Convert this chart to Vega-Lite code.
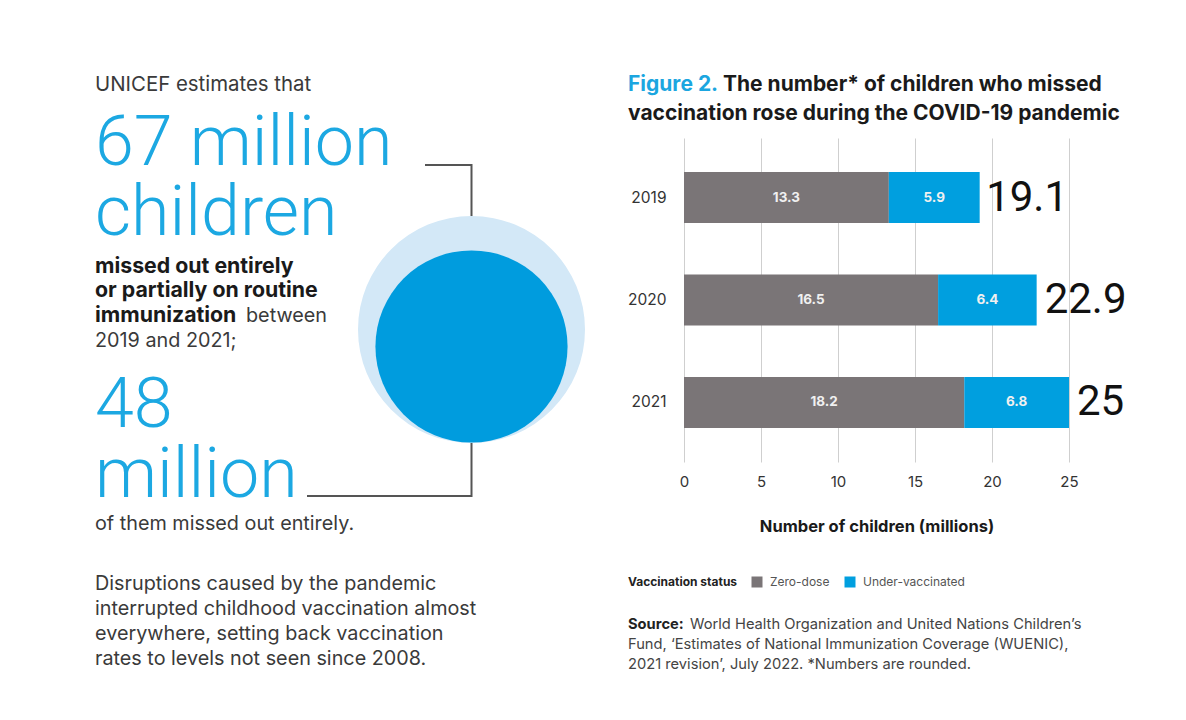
{
  "$schema": "https://vega.github.io/schema/vega-lite/v6.json",
  "background": "white",
  "padding": {"left": 95, "top": 71, "right": 0, "bottom": 0},
  "config": {
    "view": {"stroke": null},
    "font": "Inter",
    "axis": {"labelFont": "Inter", "titleFont": "Inter"},
    "legend": {"labelFont": "Inter", "titleFont": "Inter"}
  },
  "datasets": {
    "bars": [
      {"year": "2019", "status": "Zero-dose", "value": 13.3},
      {"year": "2019", "status": "Under-vaccinated", "value": 5.9},
      {"year": "2020", "status": "Zero-dose", "value": 16.5},
      {"year": "2020", "status": "Under-vaccinated", "value": 6.4},
      {"year": "2021", "status": "Zero-dose", "value": 18.2},
      {"year": "2021", "status": "Under-vaccinated", "value": 6.8}
    ],
    "totals": [
      {"year": "2019", "total": 19.1},
      {"year": "2020", "total": 22.9},
      {"year": "2021", "total": 25}
    ],
    "circles": [
      {"label": "67 million", "millions": 67, "cx": 376.5, "cy": 258.5},
      {"label": "48 million", "millions": 48, "cx": 376.5, "cy": 275.5}
    ],
    "connectors": [
      {"link": "67 million", "step": 1, "cx": 330, "cy": 94},
      {"link": "67 million", "step": 2, "cx": 376.5, "cy": 94},
      {"link": "67 million", "step": 3, "cx": 376.5, "cy": 145},
      {"link": "48 million", "step": 1, "cx": 212, "cy": 425},
      {"link": "48 million", "step": 2, "cx": 376.5, "cy": 425},
      {"link": "48 million", "step": 3, "cx": 376.5, "cy": 372}
    ],
    "leftText": [
      {"t": "UNICEF estimates that", "role": "lead", "col": 0, "ln": 20},
      {"t": "67 million\nchildren", "role": "headline", "col": 0, "ln": 94},
      {"t": "missed out entirely", "role": "emphasis", "col": 0, "ln": 202},
      {"t": "or partially on routine", "role": "emphasis", "col": 0, "ln": 226},
      {"t": "immunization", "role": "emphasis", "col": 0, "ln": 251},
      {"t": "between", "role": "body", "col": 151, "ln": 251},
      {"t": "2019 and 2021;", "role": "body", "col": 0, "ln": 276},
      {"t": "48\nmillion", "role": "headline", "col": 0, "ln": 356},
      {"t": "of them missed out entirely.", "role": "body", "col": 0, "ln": 459},
      {"t": "Disruptions caused by the pandemic", "role": "body", "col": 0, "ln": 519},
      {"t": "interrupted childhood vaccination almost", "role": "body", "col": 0, "ln": 544},
      {"t": "everywhere, setting back vaccination", "role": "body", "col": 0, "ln": 569},
      {"t": "rates to levels not seen since 2008.", "role": "body", "col": 0, "ln": 594}
    ],
    "header": [
      {"line": 1, "role": "label", "t": "Figure 2."},
      {"line": 1, "role": "first", "t": "The number* of children who missed"},
      {"line": 2, "role": "cont", "t": "vaccination rose during the COVID-19 pandemic"}
    ],
    "source": [
      {"line": 1, "role": "label", "t": "Source:"},
      {"line": 1, "role": "first", "t": "World Health Organization and United Nations Children’s"},
      {"line": 2, "role": "cont", "t": "Fund, ‘Estimates of National Immunization Coverage (WUENIC),"},
      {"line": 3, "role": "cont", "t": "2021 revision’, July 2022. *Numbers are rounded."}
    ]
  },
  "hconcat": [
    {
      "width": 490,
      "height": 600,
      "layer": [
        {
          "data": {"name": "circles"},
          "mark": {"type": "point", "shape": "circle", "filled": true, "opacity": 1, "strokeWidth": 0},
          "encoding": {
            "x": {"field": "cx", "type": "quantitative", "scale": {"domain": [0, 490], "nice": false, "zero": false}, "axis": null},
            "y": {"field": "cy", "type": "quantitative", "scale": {"domain": [0, 600], "nice": false, "zero": false, "reverse": true}, "axis": null},
            "size": {"field": "millions", "type": "quantitative", "scale": {"domain": [0, 67], "range": [0, 51529]}, "legend": null},
            "color": {"field": "label", "type": "nominal", "scale": {"domain": ["67 million", "48 million"], "range": ["#d3e8f7", "#009cde"]}, "legend": null}
          }
        },
        {
          "data": {"name": "connectors"},
          "mark": {"type": "line", "color": "#555555", "strokeWidth": 2, "strokeCap": "butt"},
          "encoding": {
            "x": {"field": "cx", "type": "quantitative", "scale": {"domain": [0, 490], "nice": false, "zero": false}, "axis": null},
            "y": {"field": "cy", "type": "quantitative", "scale": {"domain": [0, 600], "nice": false, "zero": false, "reverse": true}, "axis": null},
            "detail": {"field": "link"},
            "order": {"field": "step"}
          }
        },
        {
          "data": {"name": "leftText"},
          "transform": [{"filter": "datum.role === 'lead'"}],
          "mark": {"type": "text", "align": "left", "baseline": "alphabetic", "fontSize": 20.4, "color": "#3a3a3a"},
          "encoding": {
            "x": {"field": "col", "type": "quantitative", "scale": {"domain": [0, 490], "nice": false, "zero": false}, "axis": null},
            "y": {"field": "ln", "type": "quantitative", "scale": {"domain": [0, 600], "nice": false, "zero": false, "reverse": true}, "axis": null},
            "text": {"field": "t"}
          }
        },
        {
          "data": {"name": "leftText"},
          "transform": [{"filter": "datum.role === 'body'"}],
          "mark": {"type": "text", "align": "left", "baseline": "alphabetic", "fontSize": 19.8, "color": "#3a3a3a"},
          "encoding": {
            "x": {"field": "col", "type": "quantitative", "scale": {"domain": [0, 490], "nice": false, "zero": false}, "axis": null},
            "y": {"field": "ln", "type": "quantitative", "scale": {"domain": [0, 600], "nice": false, "zero": false, "reverse": true}, "axis": null},
            "text": {"field": "t"}
          }
        },
        {
          "data": {"name": "leftText"},
          "transform": [{"filter": "datum.role === 'emphasis'"}],
          "mark": {"type": "text", "align": "left", "baseline": "alphabetic", "fontSize": 21.3, "fontWeight": "bold", "color": "#1a1a1a"},
          "encoding": {
            "x": {"field": "col", "type": "quantitative", "scale": {"domain": [0, 490], "nice": false, "zero": false}, "axis": null},
            "y": {"field": "ln", "type": "quantitative", "scale": {"domain": [0, 600], "nice": false, "zero": false, "reverse": true}, "axis": null},
            "text": {"field": "t"}
          }
        },
        {
          "data": {"name": "leftText"},
          "transform": [{"filter": "datum.role === 'headline'"}],
          "mark": {"type": "text", "align": "left", "baseline": "alphabetic", "font": "Roboto", "fontSize": 70, "fontWeight": 300, "color": "#1ca8e2", "lineBreak": "\n", "lineHeight": 69.5},
          "encoding": {
            "x": {"field": "col", "type": "quantitative", "scale": {"domain": [0, 490], "nice": false, "zero": false}, "axis": null},
            "y": {"field": "ln", "type": "quantitative", "scale": {"domain": [0, 600], "nice": false, "zero": false, "reverse": true}, "axis": null},
            "text": {"field": "t"}
          }
        }
      ]
    },
    {
      "spacing": 8,
      "vconcat": [
        {
          "width": 10,
          "height": 59,
          "data": {"name": "header"},
          "layer": [
            {
              "transform": [{"filter": "datum.role === 'label'"}],
              "mark": {"type": "text", "align": "left", "baseline": "alphabetic", "fontSize": 21, "fontWeight": "bold", "color": "#1ba6e0", "dx": -56},
              "encoding": {
                "x": {"value": 0},
                "y": {"field": "line", "type": "ordinal", "scale": {"type": "point", "domain": [1, 2], "padding": 0.517, "align": 0.667}, "axis": null},
                "text": {"field": "t"}
              }
            },
            {
              "transform": [{"filter": "datum.role === 'first'"}],
              "mark": {"type": "text", "align": "left", "baseline": "alphabetic", "fontSize": 21, "fontWeight": "bold", "color": "#1a1a1a", "dx": 39},
              "encoding": {
                "x": {"value": 0},
                "y": {"field": "line", "type": "ordinal", "scale": {"type": "point", "domain": [1, 2], "padding": 0.517, "align": 0.667}, "axis": null},
                "text": {"field": "t"}
              }
            },
            {
              "transform": [{"filter": "datum.role === 'cont'"}],
              "mark": {"type": "text", "align": "left", "baseline": "alphabetic", "fontSize": 21, "fontWeight": "bold", "color": "#1a1a1a", "dx": -56},
              "encoding": {
                "x": {"value": 0},
                "y": {"field": "line", "type": "ordinal", "scale": {"type": "point", "domain": [1, 2], "padding": 0.517, "align": 0.667}, "axis": null},
                "text": {"field": "t"}
              }
            }
          ]
        },
        {
          "width": 385,
          "height": 324,
          "layer": [
            {
              "data": {"name": "bars"},
              "mark": {"type": "bar"},
              "encoding": {
                "y": {
                  "field": "year", "type": "nominal",
                  "scale": {"paddingInner": 0.5024, "paddingOuter": 0.332},
                  "axis": {"title": null, "domain": false, "ticks": false, "tickSize": 0, "labelPadding": 18, "labelFontSize": 15.5, "labelColor": "#333333"}
                },
                "x": {
                  "field": "value", "type": "quantitative", "stack": "zero",
                  "scale": {"domain": [0, 25], "nice": false},
                  "axis": {
                    "values": [0, 5, 10, 15, 20, 25],
                    "title": "Number of children (millions)",
                    "grid": true, "gridColor": "#cfcfcf", "domain": false, "ticks": false, "tickSize": 0,
                    "labelFlush": false, "labelPadding": 12, "labelFontSize": 15, "labelColor": "#333333",
                    "titleFontSize": 16.5, "titleFontWeight": "bold", "titleColor": "#1a1a1a", "titlePadding": 29
                  }
                },
                "color": {
                  "field": "status", "type": "nominal",
                  "scale": {"domain": ["Zero-dose", "Under-vaccinated"], "range": ["#7a7577", "#009fdf"]},
                  "legend": {
                    "orient": "none", "legendX": -56, "legendY": 438, "direction": "horizontal",
                    "title": "Vaccination status", "titleOrient": "left", "titleFontSize": 12, "titleFontWeight": "bold", "titleColor": "#222222", "titlePadding": 13,
                    "labelFontSize": 12, "labelColor": "#555555", "labelOffset": 7, "columnPadding": 14,
                    "symbolType": "square", "symbolSize": 121, "symbolStrokeWidth": 0
                  }
                },
                "order": {"field": "status", "sort": "descending"}
              }
            },
            {
              "data": {"name": "bars"},
              "transform": [
                {"stack": "value", "groupby": ["year"], "sort": [{"field": "status", "order": "descending"}], "as": ["v0", "v1"]},
                {"fold": ["v0", "v1"], "as": ["edge", "pos"]},
                {"aggregate": [{"op": "mean", "field": "pos", "as": "mid"}], "groupby": ["year", "status", "value"]}
              ],
              "mark": {"type": "text", "color": "#f0f0f0", "fontWeight": "bold", "fontSize": 13.5, "baseline": "middle"},
              "encoding": {
                "y": {"field": "year", "type": "nominal"},
                "x": {"field": "mid", "type": "quantitative"},
                "text": {"field": "value", "type": "quantitative"}
              }
            },
            {
              "data": {"name": "totals"},
              "mark": {"type": "text", "align": "left", "baseline": "middle", "dx": 8, "font": "Roboto", "fontSize": 42, "color": "#111111"},
              "encoding": {
                "y": {"field": "year", "type": "nominal"},
                "x": {"field": "total", "type": "quantitative"},
                "text": {"field": "total", "type": "quantitative"}
              }
            }
          ]
        },
        {
          "width": 10,
          "height": 80,
          "data": {"name": "source"},
          "layer": [
            {
              "transform": [{"filter": "datum.role === 'label'"}],
              "mark": {"type": "text", "align": "left", "baseline": "alphabetic", "fontSize": 14.7, "fontWeight": "bold", "color": "#222222", "dx": -56},
              "encoding": {
                "x": {"value": 0},
                "y": {"field": "line", "type": "ordinal", "scale": {"type": "point", "domain": [1, 2, 3], "padding": 1.105, "align": 0.833}, "axis": null},
                "text": {"field": "t"}
              }
            },
            {
              "transform": [{"filter": "datum.role === 'first'"}],
              "mark": {"type": "text", "align": "left", "baseline": "alphabetic", "fontSize": 14.7, "color": "#444444", "dx": 6},
              "encoding": {
                "x": {"value": 0},
                "y": {"field": "line", "type": "ordinal", "scale": {"type": "point", "domain": [1, 2, 3], "padding": 1.105, "align": 0.833}, "axis": null},
                "text": {"field": "t"}
              }
            },
            {
              "transform": [{"filter": "datum.role === 'cont'"}],
              "mark": {"type": "text", "align": "left", "baseline": "alphabetic", "fontSize": 14.7, "color": "#444444", "dx": -56},
              "encoding": {
                "x": {"value": 0},
                "y": {"field": "line", "type": "ordinal", "scale": {"type": "point", "domain": [1, 2, 3], "padding": 1.105, "align": 0.833}, "axis": null},
                "text": {"field": "t"}
              }
            }
          ]
        }
      ],
      "resolve": {"scale": {"x": "independent", "y": "independent", "color": "independent"}, "legend": {"color": "independent"}}
    }
  ],
  "spacing": 42,
  "resolve": {"scale": {"x": "independent", "y": "independent", "color": "independent", "size": "independent"}, "legend": {"color": "independent", "size": "independent"}}
}
